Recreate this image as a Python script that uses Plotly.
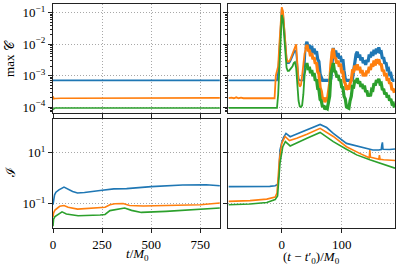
import plotly.graph_objects as go

# ---------------- data (log10 values where noted) ----------------
colors = ["#1f77b4", "#ff7f0e", "#2ca02c"]

# top-left: max C vs t/M0 (log10)
tl_t = [0, 4, 10, 20, 40, 60, 100, 200, 300, 400, 500, 600, 700, 800, 850]
tl_blue = [-3.15, -3.15, -3.15, -3.15, -3.15, -3.15, -3.15, -3.15, -3.15, -3.15, -3.15, -3.15, -3.15, -3.15, -3.15]
tl_orange = [-3.66, -3.74, -3.73, -3.72, -3.72, -3.72, -3.72, -3.72, -3.71, -3.71, -3.71, -3.71, -3.71, -3.71, -3.71]
tl_green = [-4.08, -4.05, -4.03, -4.03, -4.03, -4.03, -4.03, -4.03, -4.03, -4.03, -4.03, -4.03, -4.03, -4.03, -4.03]

# top-right: max C vs (t - t0')/M0 (log10)
tr_x = [-89, -84, -80, -76, -72, -68, -64, -60, -56, -50, -40, -30, -20, -14,
        -12, -10, -8, -6, -4, -2, 0, 2, 4, 6, 8, 10, 12, 14, 16, 18, 20, 22, 24, 26, 28, 30, 32, 34, 36, 38,
        40, 42, 44, 46, 48, 50, 52, 54, 56, 58, 60, 62, 64, 66, 68, 70, 72, 74, 76, 78,
        80, 82, 84, 86, 88, 90, 92, 94, 96, 98, 100, 102, 104, 106, 108, 110, 112, 114, 116, 118,
        120, 122, 124, 126, 128, 130, 132, 134, 136, 138, 140, 142, 144, 146, 148, 150, 152, 154, 156, 158,
        160, 162, 164, 166, 168, 170, 172, 174, 176, 178, 180, 182, 184, 186, 188]
tr_blue = [-3.15, -3.15, -3.15, -3.15, -3.15, -3.15, -3.15, -3.15, -3.15, -3.15, -3.15, -3.15, -3.15, -3.15,
           -3.15, -3.15, -3.15, -2.9, -2.2, -1.3, -0.88, -1.0, -1.6, -2.2, -2.5, -2.6, -2.6, -2.55, -2.45, -2.4, -2.3, -2.2, -2.25, -2.7, -3.1, -3.15, -3.15, -3.15, -3.15, -2.8,
           -2.05, -1.92, -2.12, -2.02, -2.22, -2.05, -2.28, -2.14, -2.32, -2.22, -2.48, -2.55, -2.95, -3.1, -3.15, -3.15, -3.15, -3.15, -3.15, -3.15,
           -3.15, -3.1, -2.45, -2.12, -2.32, -2.2, -2.42, -2.28, -2.46, -2.38, -2.57, -2.48, -2.85, -3.1, -3.15, -3.15, -3.15, -3.15, -3.15, -3.1,
           -2.85, -2.55, -2.32, -2.24, -2.42, -2.33, -2.52, -2.42, -2.6, -2.52, -2.66, -2.5, -2.57, -2.33, -2.42, -2.24, -2.37, -2.18, -2.32, -2.14,
           -2.27, -2.1, -2.25, -2.24, -2.46, -2.42, -2.62, -2.58, -2.8, -2.78, -2.96, -2.94, -3.12, -3.15, -3.15]
tr_orange = [-3.72, -3.70, -3.72, -3.69, -3.72, -3.70, -3.72, -3.71, -3.72, -3.72, -3.72, -3.72, -3.72, -3.72,
             -3.72, -3.0, -2.85, -2.7, -2.0, -1.2, -0.82, -0.95, -1.5, -2.1, -2.45, -2.55, -2.55, -2.5, -2.4, -2.3, -2.2, -2.05, -2.0, -2.6, -3.2, -3.35, -3.3, -3.0, -2.6, -2.3,
             -2.15, -2.02, -2.22, -2.18, -2.38, -2.28, -2.48, -2.42, -2.62, -2.58, -2.88, -2.95, -3.38, -3.5, -3.76, -3.7, -3.84, -3.76, -3.8, -3.55,
             -3.25, -2.65, -2.25, -2.14, -2.42, -2.45, -2.62, -2.52, -2.72, -2.62, -2.88, -2.88, -3.18, -3.25, -3.45, -3.38, -3.44, -3.25, -3.15, -2.85,
             -2.86, -2.68, -2.82, -2.64, -2.82, -2.72, -2.92, -2.82, -3.02, -2.92, -3.02, -2.84, -2.92, -2.72, -2.82, -2.62, -2.72, -2.52, -2.68, -2.48,
             -2.62, -2.48, -2.66, -2.62, -2.86, -2.82, -3.02, -2.92, -3.16, -3.08, -3.26, -3.22, -3.46, -3.42, -3.55]
tr_green = [-4.03, -4.03, -4.03, -4.03, -4.03, -4.03, -4.03, -4.03, -4.03, -4.03, -4.03, -4.03, -4.03, -4.03,
            -4.03, -4.03, -4.03, -3.6, -2.6, -1.5, -1.07, -1.2, -1.8, -2.4, -2.75, -2.85, -2.85, -2.8, -2.75, -2.7, -2.6, -2.57, -2.75, -3.3, -3.8, -3.98, -4.0, -3.95, -3.6, -3.0,
            -2.75, -2.6, -2.82, -2.72, -2.92, -2.82, -3.02, -2.92, -3.16, -3.12, -3.42, -3.44, -3.76, -3.8, -4.0, -3.95, -4.07, -4.02, -4.05, -3.85,
            -3.65, -2.95, -2.75, -2.6, -2.86, -2.88, -3.06, -2.98, -3.16, -3.12, -3.36, -3.38, -3.66, -3.74, -4.0, -4.02, -4.04, -3.8, -3.66, -3.35,
            -3.36, -3.14, -3.22, -3.08, -3.26, -3.18, -3.36, -3.26, -3.42, -3.32, -3.52, -3.48, -3.66, -3.58, -3.66, -3.44, -3.46, -3.24, -3.32, -3.14,
            -3.22, -3.1, -3.26, -3.24, -3.46, -3.42, -3.6, -3.54, -3.7, -3.62, -3.8, -3.74, -3.9, -3.88, -4.02]
tr_noisy_from = 40  # start of the turbulent (noisy) phase, in (t - t0')/M0

# bottom-left: I vs t/M0 (log10)
bl_t = [0, 3, 8, 15, 30, 56, 80, 100, 125, 160, 240, 310, 375, 500, 660, 780, 850]
bl_blue = [-1.04, -0.8, -0.65, -0.55, -0.46, -0.35, -0.45, -0.52, -0.58, -0.56, -0.48, -0.42, -0.41, -0.33, -0.27, -0.26, -0.3]
bl_t2 = [0, 3, 10, 34, 56, 77, 125, 240, 265, 290, 315, 357, 390, 460, 575, 750, 850]
bl_orange = [-1.52, -1.36, -1.25, -1.1, -1.07, -1.14, -1.21, -1.17, -1.14, -1.04, -1.0, -0.99, -1.07, -1.09, -1.07, -1.04, -0.97]
bl_t3 = [0, 3, 10, 25, 46, 68, 93, 128, 240, 265, 290, 315, 365, 400, 450, 575, 750, 850]
bl_green = [-1.88, -1.6, -1.5, -1.43, -1.32, -1.4, -1.44, -1.47, -1.44, -1.42, -1.27, -1.23, -1.17, -1.26, -1.34, -1.3, -1.23, -1.17]

# bottom-right: I vs (t - t0')/M0 (log10)
br_xb = [-89, -50, -20, -11, -7, -5, -3, 0, 3, 7, 11, 14, 20, 25, 42, 64, 75, 86, 108, 130, 152, 162, 166, 167, 168, 169, 172, 180, 189]
br_blue = [-0.33, -0.33, -0.32, -0.3, -0.25, 0.06, 1.1, 1.4, 1.6, 1.75, 1.68, 1.62, 1.68, 1.73, 1.88, 2.1, 1.98, 1.75, 1.36, 1.23, 1.1, 1.1, 1.12, 1.3, 1.4, 1.13, 1.12, 1.12, 1.14]
br_xo = [-89, -53, -25, -11, -8, -4, 0, 5.6, 12.8, 25, 42, 64, 86, 108, 130, 144, 146, 147, 148, 152, 160, 162, 163, 164, 170, 189]
br_orange = [-0.91, -0.88, -0.82, -0.74, -0.58, 0.71, 1.36, 1.63, 1.47, 1.56, 1.72, 1.95, 1.63, 1.23, 0.97, 0.8, 0.8, 1.1, 0.82, 0.8, 0.76, 0.74, 0.9, 0.74, 0.72, 0.69]
br_xg = [-89, -53, -25, -11, -7, -3, 1.7, 6, 14, 25, 42, 64, 86, 108, 125, 147, 170, 189]
br_green = [-1.04, -1.01, -0.95, -0.84, -0.7, 0.58, 1.23, 1.43, 1.26, 1.39, 1.56, 1.79, 1.43, 1.13, 0.91, 0.72, 0.55, 0.39]

top_ticks = [1e-4, 1e-3, 1e-2, 1e-1]
top_ticktext = ["10<sup>−4</sup>", "10<sup>−3</sup>", "10<sup>−2</sup>", "10<sup>−1</sup>"]
bot_ticks = [1e-1, 1e1]
bot_ticktext = ["10<sup>−1</sup>", "10<sup>1</sup>"]
left_xticks = [0, 250, 500, 750]
right_xticks = [0, 100]
top_minor = [k * 10.0 ** e for e in range(-5, 0) for k in range(2, 10)]

# ---------------- figure ----------------
fig = go.Figure()

def pw(v):
    return [10 ** a for a in v]

def add(xs, ys, c, xa, ya, w=1.6):
    fig.add_trace(go.Scatter(x=xs, y=pw(ys), mode="lines", xaxis=xa, yaxis=ya,
                             line=dict(color=c, width=w), showlegend=False,
                             hoverinfo="skip"))

for xs, ys, c in [(tl_t, tl_blue, colors[0]), (tl_t, tl_orange, colors[1]), (tl_t, tl_green, colors[2])]:
    add(xs, ys, c, "x", "y")

k = tr_x.index(tr_noisy_from)
for ys, c in [(tr_blue, colors[0]), (tr_orange, colors[1]), (tr_green, colors[2])]:
    add(tr_x[:k + 1], ys[:k + 1], c, "x2", "y2", 1.8)
    add(tr_x[k:], ys[k:], c, "x2", "y2", 3.2)

for xs, ys, c in [(bl_t, bl_blue, colors[0]), (bl_t2, bl_orange, colors[1]), (bl_t3, bl_green, colors[2])]:
    add(xs, ys, c, "x3", "y3")
for xs, ys, c in [(br_xb, br_blue, colors[0]), (br_xo, br_orange, colors[1]), (br_xg, br_green, colors[2])]:
    add(xs, ys, c, "x4", "y4")

font = dict(family="Liberation Serif, DejaVu Serif, serif", size=13, color="black")
common = dict(showline=True, linecolor="#222", linewidth=1.2, mirror=True,
              ticks="outside", ticklen=4, tickwidth=1, tickcolor="#222",
              showgrid=True, gridcolor="#a8a8a8", griddash="1px,2px", gridwidth=0.8,
              zeroline=False, tickfont=font, automargin=False)

lx = [0.0, 0.488]
rx = [0.513, 1.0]
by = [0.0, 0.485]
ty = [0.512, 1.0]

minor_log = dict(tickvals=top_minor, ticks="outside", ticklen=2, tickwidth=0.8,
                 tickcolor="#222", showgrid=False)

fig.update_layout(
    width=399, height=271,
    margin=dict(l=53, r=4, t=4, b=43),
    paper_bgcolor="white", plot_bgcolor="white",
    font=font,
    xaxis=dict(domain=lx, anchor="y", range=[0, 850], tickvals=left_xticks,
               showticklabels=False, **common),
    yaxis=dict(domain=ty, anchor="x", type="log", range=[-4.2, -0.72],
               tickvals=top_ticks, ticktext=top_ticktext, minor=minor_log, **common),
    xaxis2=dict(domain=rx, anchor="y2", range=[-89, 189], tickvals=right_xticks,
                showticklabels=False, **common),
    yaxis2=dict(domain=ty, anchor="x2", type="log", range=[-4.2, -0.72],
                tickvals=top_ticks, showticklabels=False, minor=minor_log, **common),
    xaxis3=dict(domain=lx, anchor="y3", range=[0, 850], tickvals=left_xticks, **common),
    yaxis3=dict(domain=by, anchor="x3", type="log", range=[-1.95, 2.3],
                tickvals=bot_ticks, ticktext=bot_ticktext, **common),
    xaxis4=dict(domain=rx, anchor="y4", range=[-89, 189], tickvals=right_xticks, **common),
    yaxis4=dict(domain=by, anchor="x4", type="log", range=[-1.95, 2.3],
                tickvals=bot_ticks, showticklabels=False, **common),
)

titles = [
    ("max 𝒞", -0.126, 0.759, -90),
    ("ℐ", -0.126, 0.25, -90),
    ("<i>t</i>/<i>M</i><sub>0</sub>", 0.246, -0.12, 0),
    ("(<i>t</i> − <i>t</i>′<sub>0</sub>)/<i>M</i><sub>0</sub>", 0.757, -0.13, 0),
]
for text, x, y, ang in titles:
    fig.add_annotation(text=text, x=x, y=y, xref="paper", yref="paper",
                       showarrow=False, textangle=ang, font=font,
                       xanchor="center", yanchor="middle")

fig.write_html("out.html", config={"displayModeBar": False},
               post_script="document.body.style.margin='0';document.body.style.overflow='hidden';")
